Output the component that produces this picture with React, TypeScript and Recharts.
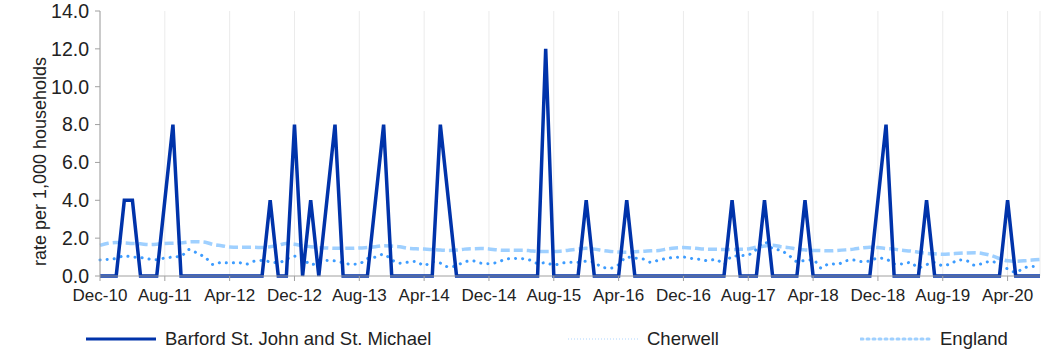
import React from "react";
import {
  LineChart,
  Line,
  XAxis,
  YAxis,
  CartesianGrid,
  Legend,
} from "recharts";

const months = [
  "Dec-10",
  "Jan-11", "Feb-11", "Mar-11", "Apr-11", "May-11", "Jun-11", "Jul-11", "Aug-11", "Sep-11", "Oct-11", "Nov-11", "Dec-11",
  "Jan-12", "Feb-12", "Mar-12", "Apr-12", "May-12", "Jun-12", "Jul-12", "Aug-12", "Sep-12", "Oct-12", "Nov-12", "Dec-12",
  "Jan-13", "Feb-13", "Mar-13", "Apr-13", "May-13", "Jun-13", "Jul-13", "Aug-13", "Sep-13", "Oct-13", "Nov-13", "Dec-13",
  "Jan-14", "Feb-14", "Mar-14", "Apr-14", "May-14", "Jun-14", "Jul-14", "Aug-14", "Sep-14", "Oct-14", "Nov-14", "Dec-14",
  "Jan-15", "Feb-15", "Mar-15", "Apr-15", "May-15", "Jun-15", "Jul-15", "Aug-15", "Sep-15", "Oct-15", "Nov-15", "Dec-15",
  "Jan-16", "Feb-16", "Mar-16", "Apr-16", "May-16", "Jun-16", "Jul-16", "Aug-16", "Sep-16", "Oct-16", "Nov-16", "Dec-16",
  "Jan-17", "Feb-17", "Mar-17", "Apr-17", "May-17", "Jun-17", "Jul-17", "Aug-17", "Sep-17", "Oct-17", "Nov-17", "Dec-17",
  "Jan-18", "Feb-18", "Mar-18", "Apr-18", "May-18", "Jun-18", "Jul-18", "Aug-18", "Sep-18", "Oct-18", "Nov-18", "Dec-18",
  "Jan-19", "Feb-19", "Mar-19", "Apr-19", "May-19", "Jun-19", "Jul-19", "Aug-19", "Sep-19", "Oct-19", "Nov-19", "Dec-19",
  "Jan-20", "Feb-20", "Mar-20", "Apr-20", "May-20", "Jun-20", "Jul-20", "Aug-20",
];

const tickMonths = [
  "Dec-10", "Aug-11", "Apr-12", "Dec-12", "Aug-13", "Apr-14", "Dec-14", "Aug-15",
  "Apr-16", "Dec-16", "Aug-17", "Apr-18", "Dec-18", "Aug-19", "Apr-20",
];

const barford = [
  0, 0, 0, 4, 4, 0, 0, 0, 4, 8, 0, 0,
  0, 0, 0, 0, 0, 0, 0, 0, 0, 4, 0, 0,
  8, 0, 4, 0, 4, 8, 0, 0, 0, 0, 4, 8,
  0, 0, 0, 0, 0, 0, 8, 4, 0, 0, 0, 0,
  0, 0, 0, 0, 0, 0, 0, 12, 0, 0, 0, 0,
  4, 0, 0, 0, 0, 4, 0, 0, 0, 0, 0, 0,
  0, 0, 0, 0, 0, 0, 4, 0, 0, 0, 4, 0,
  0, 0, 0, 4, 0, 0, 0, 0, 0, 0, 0, 0,
  4, 8, 0, 0, 0, 0, 4, 0, 0, 0, 0, 0,
  0, 0, 0, 0, 4, 0, 0, 0, 0,
];

const cherwell = [
  0.85, 0.88, 0.93, 1.06, 1.0, 0.98, 0.9, 0.86, 0.95, 1.0, 1.05, 1.4,
  1.2, 0.98, 0.6, 0.72, 0.68, 0.72, 0.62, 0.78, 0.82, 0.75, 0.7, 0.88,
  1.05, 0.95, 0.6, 0.7, 0.82, 0.8, 0.7, 0.62, 0.65, 0.92, 1.0, 1.15,
  0.85, 0.68, 0.73, 0.77, 0.55, 0.75, 0.68, 0.48, 0.55, 0.75, 0.8, 0.68,
  0.65, 0.72, 0.88, 0.93, 0.92, 0.85, 0.67, 0.7, 0.58, 0.68, 0.72, 0.72,
  0.78, 0.72, 0.45, 0.42, 0.6, 1.0, 0.95, 0.9, 0.72, 0.85, 0.93, 0.99,
  1.0, 0.93, 0.88, 0.81, 0.88, 0.62, 1.05, 1.07, 1.12, 1.4, 1.8, 1.45,
  1.35, 1.1, 0.77, 0.82, 0.86, 0.42, 0.65, 0.62, 0.8, 0.84, 0.76, 0.8,
  0.95, 0.9, 0.64, 0.63, 0.72, 0.44, 0.6, 0.72, 0.55, 0.65, 0.85, 0.8,
  0.56, 0.68, 0.78, 0.58, 0.38, 0.2, 0.42, 0.5, 0.48,
];

const england = [
  1.62, 1.73, 1.77, 1.75, 1.72, 1.7, 1.66, 1.68, 1.72, 1.73, 1.75, 1.8,
  1.81, 1.78, 1.66, 1.6, 1.53, 1.52, 1.52, 1.52, 1.5, 1.55, 1.62, 1.72,
  1.68, 1.6, 1.55, 1.5, 1.48, 1.46, 1.46, 1.46, 1.48, 1.5, 1.55, 1.6,
  1.58, 1.55, 1.46, 1.44, 1.42, 1.4, 1.37, 1.35, 1.37, 1.42, 1.44, 1.45,
  1.43, 1.38, 1.36, 1.36, 1.36, 1.34, 1.3, 1.29, 1.29, 1.32, 1.37, 1.42,
  1.46, 1.42, 1.35, 1.3, 1.27, 1.25, 1.28, 1.3, 1.33, 1.35, 1.43, 1.48,
  1.5, 1.48, 1.44, 1.42, 1.41, 1.4, 1.4, 1.41, 1.43, 1.52, 1.58, 1.62,
  1.55, 1.5, 1.42, 1.38, 1.35, 1.34, 1.33, 1.35, 1.38, 1.42, 1.48, 1.52,
  1.5, 1.45, 1.42, 1.36, 1.32, 1.26, 1.2, 1.17, 1.15, 1.17, 1.2, 1.22,
  1.23, 1.18, 1.08, 0.92, 0.8, 0.78, 0.8, 0.84, 0.87,
];

const yTicks = [0, 2, 4, 6, 8, 10, 12, 14];

const data = months.map((m, i) => ({
  month: m,
  barford: barford[i],
  cherwell: cherwell[i],
  england: england[i],
}));

const FONT = "'Liberation Sans', Arial, sans-serif";

const legendItems = [
  { label: "Barford St. John and St. Michael", left: 85, color: "#0033aa", dash: undefined, width: 3, cap: "butt" },
  { label: "Cherwell", left: 567, color: "#d6eaff", dash: "1 2", width: 2, cap: "butt" },
  { label: "England", left: 860, color: "#9fd0ff", dash: "2 4", width: 3, cap: "round" },
];

const renderLegend = () => (
  <div style={{ position: "relative", height: 40, width: 1044, fontFamily: FONT }}>
    {legendItems.map((it) => (
      <div
        key={it.label}
        style={{ position: "absolute", left: it.left, top: 22, display: "flex", alignItems: "center" }}
      >
        <svg width={72} height={10} style={{ marginRight: 8 }}>
          <line
            x1={1}
            y1={5}
            x2={71}
            y2={5}
            stroke={it.color}
            strokeWidth={it.width}
            strokeDasharray={it.dash}
            strokeLinecap={it.cap as any}
          />
        </svg>
        <span style={{ fontSize: 18.5, color: "#222" }}>{it.label}</span>
      </div>
    ))}
  </div>
);

// axis title sits a little below the middle of the plot, like the original
const renderYLabel = (props: any) => {
  const vb = props.viewBox;
  const cx = 40;
  const cy = vb.y + vb.height / 2 + 18;
  return (
    <text
      x={cx}
      y={cy}
      transform={`rotate(-90, ${cx}, ${cy})`}
      textAnchor="middle"
      dominantBaseline="central"
      fill="#222"
      fontSize={18}
      fontFamily={FONT}
    >
      rate per 1,000 households
    </text>
  );
};

export default function App() {
  return (
    <div style={{ position: "absolute", left: 0, top: 0, background: "#fff" }}>
      <LineChart
        width={1044}
        height={353}
        data={data}
        margin={{ top: 11, right: 4, bottom: 7, left: 0 }}
      >
        <CartesianGrid vertical horizontal={false} stroke="#ebebeb" />
        <XAxis
          dataKey="month"
          ticks={tickMonths}
          interval={0}
          height={30}
          tickSize={5}
          tickMargin={8}
          stroke="#a0a0a0"
          tick={{ fill: "#222", fontSize: 17, fontFamily: FONT }}
        />
        <YAxis
          domain={[0, 14]}
          ticks={yTicks}
          width={100}
          tickSize={5}
          tickMargin={6}
          stroke="#a0a0a0"
          tickFormatter={(v: number) => v.toFixed(1)}
          tick={{ fill: "#222", fontSize: 19.5, fontFamily: FONT }}
          label={{ content: renderYLabel }}
        />
        <Legend verticalAlign="bottom" height={40} content={renderLegend} />
        <Line
          type="monotone"
          dataKey="england"
          stroke="#9fd0ff"
          strokeWidth={3.5}
          strokeDasharray="9 4"
          dot={false}
          activeDot={false}
          isAnimationActive={false}
        />
        <Line
          type="monotone"
          dataKey="cherwell"
          stroke="#3d9cff"
          strokeWidth={3}
          strokeDasharray="0.1 7"
          strokeLinecap="round"
          dot={false}
          activeDot={false}
          isAnimationActive={false}
        />
        <Line
          type="linear"
          dataKey="barford"
          stroke="#0033aa"
          strokeWidth={3.5}
          dot={false}
          activeDot={false}
          isAnimationActive={false}
        />
      </LineChart>
    </div>
  );
}
